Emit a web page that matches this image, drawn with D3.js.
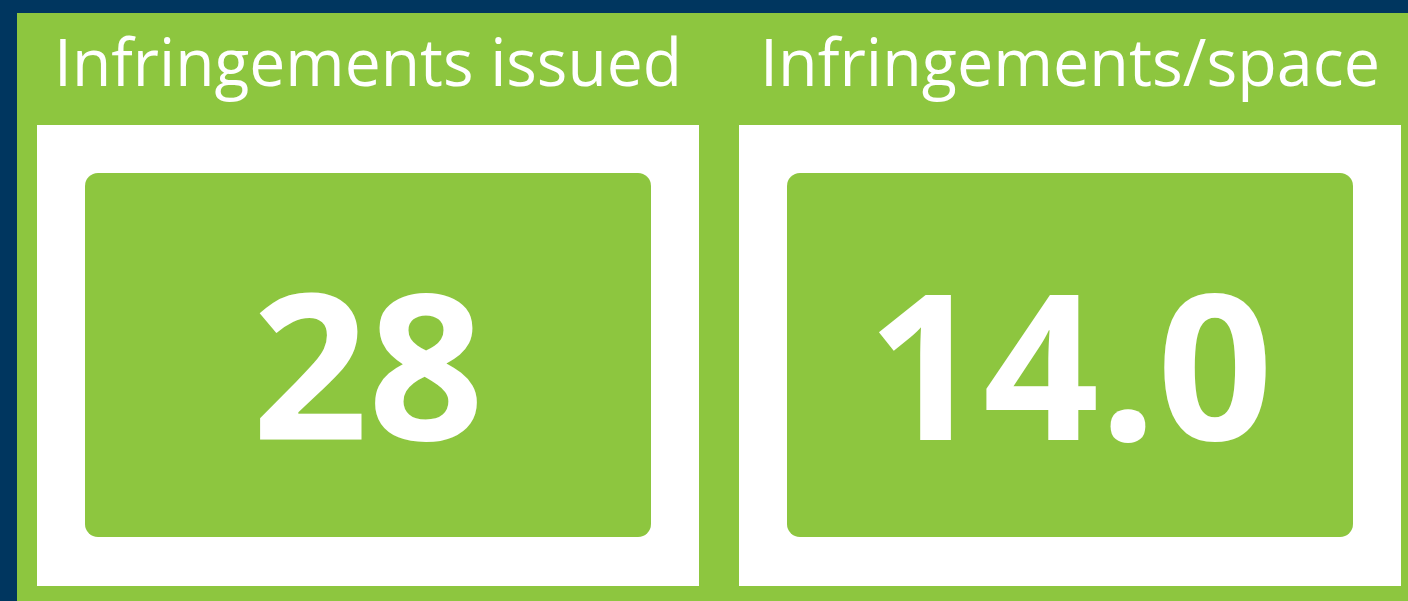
<!DOCTYPE html>
<html>
<head>
  <meta charset="utf-8">
  <style>
    html, body { margin: 0; padding: 0; background: #00365f; }
    svg { display: block; }
  </style>
</head>
<body>
  <svg id="tiles" width="1408" height="601"></svg>
  <script src="https://cdn.jsdelivr.net/npm/d3@7"></script>
  <script>
    // KPI tiles
    var labels = ["Infringements issued", "Infringements/space"];
    var values = [28, 14.0];
    var formats = [d3.format("d"), d3.format(".1f")];

    var svg = d3.select("#tiles"),
      W = +svg.attr("width"), H = +svg.attr("height");

    var green = "#8dc63f", navy = "#00365f";

    svg.append("rect").attr("width", W).attr("height", H).attr("fill", navy);
    svg.append("rect").attr("x", 17).attr("y", 13).attr("width", W - 17).attr("height", H - 13).attr("fill", green);

    var x = d3.scaleBand()
      .domain(labels)
      .range([37, 1401])
      .paddingInner(40 / 702)
      .paddingOuter(0);

    var panelTop = 125, panelBottom = 586, inset = 48, innerBottom = 537;

    var tile = svg.selectAll(".tile")
      .data(labels.map(function (l, i) { return { label: l, value: values[i], fmt: formats[i] }; }))
      .enter().append("g")
      .attr("class", "tile")
      .attr("transform", function (d) { return "translate(" + x(d.label) + ",0)"; });

    tile.append("text")
      .attr("x", x.bandwidth() / 2)
      .attr("y", 86)
      .attr("text-anchor", "middle")
      .attr("fill", "#fff")
      .style("font-family", "'Open Sans', sans-serif")
      .style("font-size", "65px")
      .attr("textLength", function (d, i) { return i === 0 ? 628 : 620; })
      .attr("lengthAdjust", "spacingAndGlyphs")
      .text(function (d) { return d.label; });

    tile.append("rect")
      .attr("x", 0).attr("y", panelTop)
      .attr("width", x.bandwidth()).attr("height", panelBottom - panelTop)
      .attr("fill", "#fff");

    tile.append("rect")
      .attr("x", inset).attr("y", panelTop + inset)
      .attr("width", x.bandwidth() - 2 * inset).attr("height", innerBottom - panelTop - inset)
      .attr("rx", 13).attr("ry", 13)
      .attr("fill", green);

    tile.append("text")
      .attr("x", x.bandwidth() / 2)
      .attr("y", 440)
      .attr("text-anchor", "middle")
      .attr("fill", "#fff")
      .style("font-family", "'Open Sans', sans-serif")
      .style("font-weight", "bold")
      .style("font-size", "203px")
      .text(function (d) { return d.fmt(d.value); });
  </script>
</body>
</html>
